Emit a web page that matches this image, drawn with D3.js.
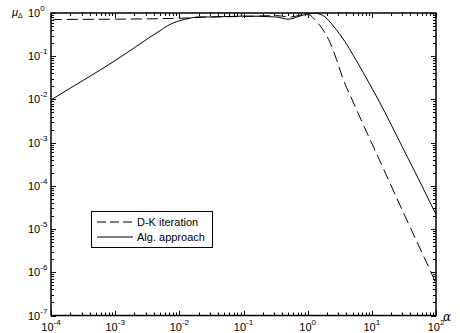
<!DOCTYPE html>
<html>
<head>
<meta charset="utf-8">
<script src="https://cdn.jsdelivr.net/npm/d3@7"></script>
<style>
  body { margin: 0; background: #fff; }
  svg { display: block; font-family: Arial, "Liberation Sans", Helvetica, sans-serif; }
</style>
</head>
<body>
<div id="chart"></div>
<script>
// values (alpha, mu)
const dkAlpha = [1e-4, 1.2e-4, 1e-3, 1e-2, 0.0316, 0.1, 0.316, 0.537, 0.76, 0.93, 1.12, 1.30, 1.55, 1.86, 2.23, 2.82, 3.55, 4.90, 8.32, 12.5, 27.5, 50.6, 89.7, 100];
const dkMu = [0.653, 0.708, 0.72, 0.755, 0.81, 0.83, 0.87, 0.81, 0.89, 0.95, 0.871, 0.692, 0.513, 0.347, 0.209, 0.0832, 0.0302, 0.01, 0.00174, 4.68e-4, 3.55e-5, 5.01e-6, 7.94e-7, 5.5e-7];

const algAlpha = [1e-4, 3.16e-4, 1e-3, 2.0e-3, 3.47e-3, 5.0e-3, 6.46e-3, 1e-2, 0.0148, 0.02, 0.0316, 0.1, 0.316, 0.5, 0.76, 1.0, 1.26, 1.58, 1.86, 2.51, 3.80, 5.13, 7.29, 10.4, 13.4, 19.2, 30.6, 36.6, 62.7, 89.7, 100];
const algMu = [0.0098, 0.0275, 0.0794, 0.158, 0.275, 0.389, 0.501, 0.661, 0.759, 0.813, 0.81, 0.85, 0.81, 0.72, 0.85, 0.955, 1.0, 0.93, 0.813, 0.501, 0.219, 0.105, 0.0427, 0.0166, 0.00832, 0.00295, 7.41e-4, 4.37e-4, 8.91e-5, 3.02e-5, 2.19e-5];

const xDomain = [1e-4, 1e2];
const yDomain = [1e-7, 1];
const seriesNames = ["D-K iteration", "Alg. approach"];

const width = 460, height = 333;
const plotLeft = 51, plotRight = 436, plotTop = 13, plotBottom = 315.5;

const svg = d3.select("#chart").append("svg")
  .attr("width", width).attr("height", height);

const x = d3.scaleLog().domain(xDomain).range([plotLeft, plotRight]);
const y = d3.scaleLog().domain(yDomain).range([plotBottom, plotTop]);

const isMajor = (v) => Math.abs(Math.log10(v) - Math.round(Math.log10(v))) < 1e-9;

// ticks, inward on all four sides
const ticks = svg.append("g").attr("stroke", "#000").attr("stroke-width", 1);
x.ticks().forEach((v) => {
  const len = isMajor(v) ? 5 : 3;
  const px = Math.round(x(v)) + 0.5;
  ticks.append("line").attr("x1", px).attr("x2", px).attr("y1", plotBottom).attr("y2", plotBottom - len);
  ticks.append("line").attr("x1", px).attr("x2", px).attr("y1", plotTop).attr("y2", plotTop + len);
});
y.ticks().forEach((v) => {
  const len = isMajor(v) ? 5 : 3;
  const py = Math.round(y(v)) + 0.5;
  ticks.append("line").attr("x1", plotLeft).attr("x2", plotLeft + len).attr("y1", py).attr("y2", py);
  ticks.append("line").attr("x1", plotRight).attr("x2", plotRight - len).attr("y1", py).attr("y2", py);
});

// frame
svg.append("rect")
  .attr("x", plotLeft).attr("y", plotTop)
  .attr("width", plotRight - plotLeft).attr("height", plotBottom - plotTop)
  .attr("fill", "none").attr("stroke", "#000").attr("stroke-width", 1.5);

// tick labels
const xMajors = x.ticks().filter(isMajor);
xMajors.forEach((v) => {
  const t = svg.append("text")
    .attr("x", x(v)).attr("y", 331)
    .attr("text-anchor", "middle")
    .attr("font-size", 11);
  t.append("tspan").text("10");
  t.append("tspan").attr("dy", -6).attr("font-size", 8).text(Math.round(Math.log10(v)));
});
const yMajors = y.ticks().filter(isMajor);
yMajors.forEach((v) => {
  const t = svg.append("text")
    .attr("x", 28).attr("y", y(v) + 4)
    .attr("font-size", 11);
  t.append("tspan").text("10");
  t.append("tspan").attr("dy", -6).attr("font-size", 8).text(Math.round(Math.log10(v)));
});

// axis labels
const yl = svg.append("text").attr("x", 12).attr("y", 16).attr("font-size", 11);
yl.append("tspan").attr("font-style", "italic").text("μ");
yl.append("tspan").attr("dy", 2).attr("font-size", 7).text("Δ");
svg.append("text").attr("x", 443).attr("y", 321)
  .attr("font-size", 12).attr("font-style", "italic").attr("font-family", "'DejaVu Serif', serif")
  .text("α");

// curves
const line = d3.line()
  .x((d) => x(d[0]))
  .y((d) => y(d[1]))
  .curve(d3.curveMonotoneX);

svg.append("clipPath").attr("id", "plotclip")
  .append("rect").attr("x", plotLeft).attr("y", plotTop)
  .attr("width", plotRight - plotLeft).attr("height", plotBottom - plotTop);

svg.append("path")
  .datum(dkAlpha.map((a, i) => [a, dkMu[i]]))
  .attr("d", line)
  .attr("clip-path", "url(#plotclip)")
  .attr("fill", "none").attr("stroke", "#000").attr("stroke-width", 1)
  .attr("stroke-dasharray", "11,5");

svg.append("path")
  .datum(algAlpha.map((a, i) => [a, algMu[i]]))
  .attr("d", line)
  .attr("clip-path", "url(#plotclip)")
  .attr("fill", "none").attr("stroke", "#000").attr("stroke-width", 1);

// legend
const lg = svg.append("g");
lg.append("rect")
  .attr("x", 91.5).attr("y", 211.5).attr("width", 121).attr("height", 36)
  .attr("fill", "#fff").attr("stroke", "#000").attr("stroke-width", 1);
const dashes = ["9,4", null];
seriesNames.forEach((name, i) => {
  const ly = 222 + i * 15;
  lg.append("line")
    .attr("x1", 97).attr("x2", 133).attr("y1", ly).attr("y2", ly)
    .attr("stroke", "#000").attr("stroke-width", 1)
    .attr("stroke-dasharray", dashes[i]);
  lg.append("text")
    .attr("x", 137).attr("y", ly + 4)
    .attr("font-size", 11)
    .text(name);
});
</script>
</body>
</html>
